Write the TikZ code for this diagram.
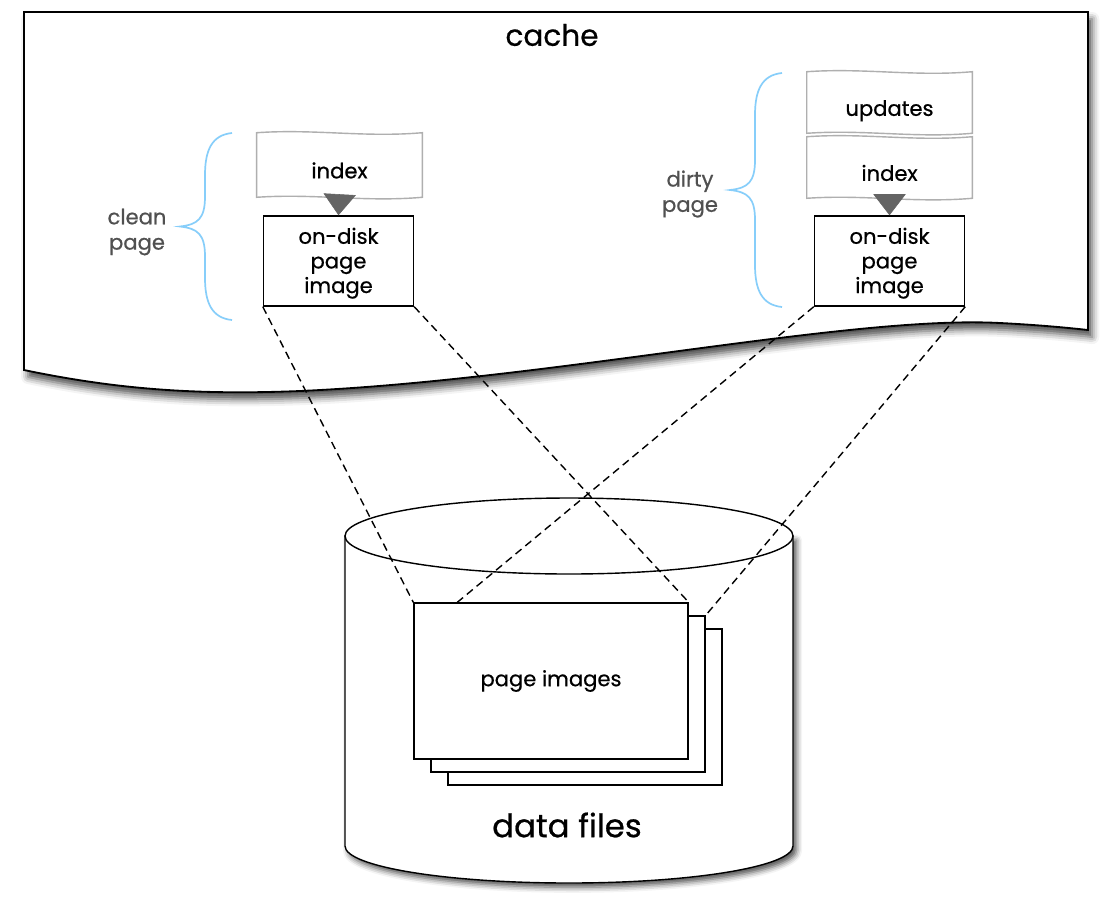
\documentclass[tikz,border=0pt]{standalone}
\usepackage{fontspec}
\setmainfont{Poppins}[FakeBold=0.6]
\usepackage{tikz}
\usetikzlibrary{arrows.meta,calc,shadows.blur,positioning}
\definecolor{bracecol}{RGB}{135,206,250}
\definecolor{papergray}{RGB}{175,175,175}
\definecolor{tipgray}{RGB}{100,100,100}
\definecolor{labelgray}{RGB}{80,80,80}

\begin{document}
\begin{tikzpicture}[x=0.025cm,y=-0.025cm,
  boxtext/.style={font=\fontsize{15pt}{17.5pt}\selectfont, align=center},
  ondisk/.style={boxtext, draw, line width=1pt, fill=white, minimum width=3.75cm, minimum height=2.25cm, inner sep=0pt, text height=49.5pt, text depth=4pt},
  paper/.style={boxtext, minimum width=4.125cm, inner sep=0pt, text height=19pt, text depth=0pt},
  paperline/.style={draw=papergray, line width=1pt},
  pointer/.style={-{Triangle[width=23pt,length=15pt]}, draw=tipgray, fill=tipgray, line width=0.4pt},
  brace/.style={bracecol, line width=1.2pt},
  sidelabel/.style={font=\fontsize{15pt}{18pt}\selectfont, text=labelgray, align=center},
  title/.style={font=\fontsize{21pt}{24pt}\selectfont},
  sheet/.style={draw, line width=1pt, fill=white, minimum width=6.85cm, minimum height=3.9cm, inner sep=0pt},
  link/.style={dash pattern=on 5.5pt off 3.5pt, line width=1pt}]
\useasboundingbox (0,0) rectangle (1110,909);
%cache
\draw[line width=1.3pt, fill=white, blur shadow={shadow xshift=3pt, shadow yshift=-5pt, shadow blur radius=5pt, shadow opacity=70}]
  (24,12) -- (1088,12) -- (1088,330)
  .. controls (1070,328) and (1040,325) .. (1000,323)
  .. controls (850,315) and (550,380) .. (300,391)
  .. controls (200,395) and (120,390) .. (24,370) -- cycle;
\node[title] (cache) at (552,35) {cache};
%clean page
\node[paper, minimum height=1.6cm] (cidx) at (339.5,165) {index};
\node[ondisk] (cdisk) at (338.5,261) {on-disk\\page\\image};
\node[sidelabel] (clbl) at (137,232) {clean\\page};
%dirty page
\node[paper, minimum height=1.525cm] (dupd) at (889.5,102.5) {updates};
\node[paper, minimum height=1.525cm] (didx) at (889.5,167.5) {index};
\node[ondisk] (ddisk) at (889.5,261) {on-disk\\page\\image};
\node[sidelabel] (dlbl) at (690,194) {dirty\\page};
\foreach \n in {cidx,dupd,didx}
  \draw[paperline] (\n.north west) .. controls ($(\n.north west)!.35!(\n.north east)+(0,-4)$) and ($(\n.north west)!.65!(\n.north east)+(0,5)$) .. (\n.north east)
    -- (\n.south east) .. controls ($(\n.south west)!.65!(\n.south east)+(0,5)$) and ($(\n.south west)!.35!(\n.south east)+(0,-4)$) .. (\n.south west) -- cycle;
\draw[pointer] (cidx.south) -- (cdisk.north);
\draw[pointer] (didx.south) -- (ddisk.north);
\foreach \bx/\bt/\bb in {232/133/320, 782/73/307}{
  \pgfmathsetmacro{\bm}{(\bt+\bb)/2}
  \draw[brace] (\bx,\bt) .. controls (\bx-20,\bt+2) and (\bx-27,\bt+17) .. (\bx-27,\bt+42)
    -- (\bx-27,\bm-30) .. controls (\bx-27,\bm-8) and (\bx-34,\bm-2) .. (\bx-52,\bm)
    .. controls (\bx-34,\bm+2) and (\bx-27,\bm+8) .. (\bx-27,\bm+30)
    -- (\bx-27,\bb-42) .. controls (\bx-27,\bb-17) and (\bx-20,\bb-2) .. (\bx,\bb);
}
%data files
\draw[line width=1pt, fill=white, blur shadow={shadow xshift=2.5pt, shadow yshift=-3pt, shadow blur radius=4pt, shadow opacity=70}]
  (345,536) -- (345,846) arc[start angle=180, end angle=0, x radius=224, y radius=37] -- (793,536) -- cycle;
\draw[line width=1pt, fill=white] (569,536) ellipse [x radius=224, y radius=38];
\node[title, font=\fontsize{23pt}{26pt}\selectfont] (data) at (567,825) {data files};
\foreach \k in {2,1}
  \node[sheet] (sheet\k) at ({551+17*\k},{681+13*\k}) {};
\node[sheet, boxtext] (sheet0) at (551,681) {page images};
\coordinate (hit) at ($(sheet0.north west)!.16!(sheet0.north east)$);
\draw[link] (cdisk.south west) -- (sheet0.north west);
\draw[link] (cdisk.south east) -- (sheet0.north east);
\draw[link] (ddisk.south west) -- (hit);
\draw[link] (ddisk.south east) -- (sheet1.north east);
\end{tikzpicture}
\end{document}
